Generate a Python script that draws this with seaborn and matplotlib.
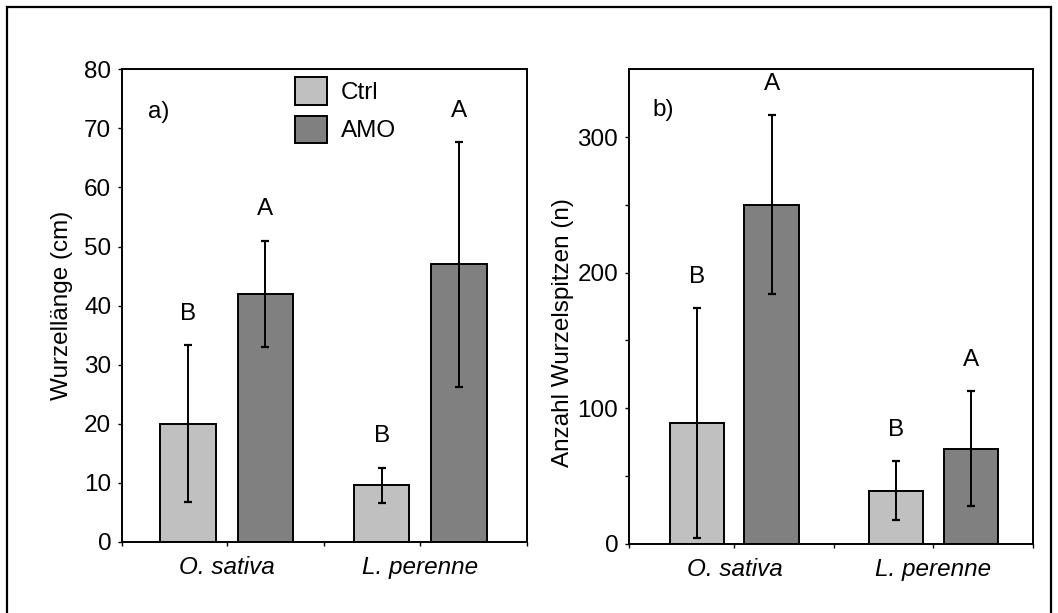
import matplotlib
matplotlib.use("Agg")
import matplotlib.pyplot as plt
from matplotlib.patches import Rectangle
from matplotlib.ticker import FixedLocator
import seaborn as sns
import pandas as pd

# ---------------- data ----------------
species = ["O. sativa", "L. perenne"]
treatments = ["Ctrl", "AMO"]

length_ctrl = [20.0, 9.6]
length_amo = [42.0, 47.0]
length_ctrl_sd = [13.3, 3.0]
length_amo_sd = [9.0, 20.7]
length_letters_ctrl = ["B", "B"]
length_letters_amo = ["A", "A"]

tips_ctrl = [89.0, 39.0]
tips_amo = [250.0, 70.0]
tips_ctrl_sd = [85.0, 21.8]
tips_amo_sd = [66.0, 42.5]
tips_letters_ctrl = ["B", "B"]
tips_letters_amo = ["A", "A"]

length_ticks = [0, 10, 20, 30, 40, 50, 60, 70, 80]
tips_ticks = [0, 100, 200, 300]
tips_minor_ticks = [50, 150, 250]

colors = {"Ctrl": "#c0c0c0", "AMO": "#808080"}

# ---------------- style ----------------
sns.set_theme(style="white")
plt.rcParams["font.family"] = ["Liberation Sans", "DejaVu Sans"]
FS = 17.5
plt.rcParams.update({
    "axes.edgecolor": "black",
    "axes.linewidth": 1.2,
    "xtick.color": "black",
    "ytick.color": "black",
    "text.color": "black",
    "axes.labelcolor": "black",
})

W, H = 1058, 613
fig = plt.figure(figsize=(W / 100, H / 100), dpi=100)
fig.patch.set_facecolor("white")

ax1 = fig.add_axes([122.3 / W, 1 - 542 / H, (526.7 - 122.3) / W, (542 - 69.3) / H])
ax2 = fig.add_axes([629.3 / W, 1 - 543.7 / H, (1033 - 629.3) / W, (543.7 - 69.3) / H])


def make_df(ctrl, amo):
    rows = []
    for s, c, a in zip(species, ctrl, amo):
        rows.append({"species": s, "treatment": "Ctrl", "value": c})
        rows.append({"species": s, "treatment": "AMO", "value": a})
    return pd.DataFrame(rows)


def panel(ax, ctrl, amo, ctrl_sd, amo_sd, let_ctrl, let_amo, width, gap, xlim):
    df = make_df(ctrl, amo)
    sns.barplot(data=df, x="species", y="value", hue="treatment",
                order=species, hue_order=treatments, palette=colors,
                width=width, gap=gap, edgecolor="black", linewidth=1.4,
                errorbar=None, ax=ax, legend=False, saturation=1)
    sds = [ctrl_sd, amo_sd]
    means = [ctrl, amo]
    lets = [let_ctrl, let_amo]
    for cont, sd, mu, lt in zip(ax.containers, sds, means, lets):
        xs = [p.get_x() + p.get_width() / 2 for p in cont.patches]
        ax.errorbar(xs, mu, yerr=sd, fmt="none", ecolor="black",
                    elinewidth=1.4, capsize=2.8, capthick=1.6, zorder=5)
        for x, m, s, t in zip(xs, mu, sd, lt):
            ax.annotate(t, (x, m + s), xytext=(0, 22.5), textcoords="offset points",
                        ha="center", va="center", fontsize=FS)
    ax.set_xlim(*xlim)
    ax.set_xlabel("")
    ax.set_xticks(range(len(species)))
    ax.set_xticklabels(species, fontsize=FS, style="italic")
    ax.xaxis.set_minor_locator(FixedLocator([xlim[0], 0.5, xlim[1]]))
    ax.tick_params(axis="x", which="both", direction="out", length=3, width=1,
                   bottom=True, pad=7)
    ax.tick_params(axis="y", which="both", direction="out", length=3, width=1,
                   left=True, labelsize=FS, pad=5)
    for sp in ax.spines.values():
        sp.set_visible(True)
        sp.set_color("black")
        sp.set_linewidth(1.4)


panel(ax1, length_ctrl, length_amo, length_ctrl_sd, length_amo_sd,
      length_letters_ctrl, length_letters_amo, 0.8, 0.28, (-0.54, 1.55))
ax1.set_ylim(0, 80)
ax1.set_yticks(length_ticks)
ax1.set_ylabel("Wurzellänge (cm)", fontsize=FS)
ax1.yaxis.set_label_coords(-0.122, 0.5)
ax1.text(0.064, 0.91, "a)", transform=ax1.transAxes, fontsize=FS,
         ha="left", va="center")

panel(ax2, tips_ctrl, tips_amo, tips_ctrl_sd, tips_amo_sd,
      tips_letters_ctrl, tips_letters_amo, 0.75, 0.27, (-0.528, 1.5))
ax2.set_ylim(0, 350)
ax2.set_yticks(tips_ticks)
ax2.yaxis.set_minor_locator(FixedLocator(tips_minor_ticks))
ax2.set_ylabel("Anzahl Wurzelspitzen (n)", fontsize=FS)
ax2.yaxis.set_label_coords(-0.137, 0.446)
ax2.text(0.058, 0.914, "b)", transform=ax2.transAxes, fontsize=FS,
         ha="left", va="center")

# legend
leg = ax1.legend(handles=list(ax1.containers), labels=treatments,
                 loc="upper left", bbox_to_anchor=(0.427, 0.983),
                 frameon=False, fontsize=FS, handlelength=1.3,
                 handleheight=1.35, labelspacing=0.45, handletextpad=0.6,
                 borderpad=0, borderaxespad=0)

# figure border (open at the bottom like the original)
fig.add_artist(Rectangle((7 / W, -0.05), (1051 - 7) / W, 1.05 - 7 / H,
                         transform=fig.transFigure, fill=False,
                         edgecolor="black", linewidth=1.6))

fig.savefig("out.png", dpi=100, facecolor="white")
